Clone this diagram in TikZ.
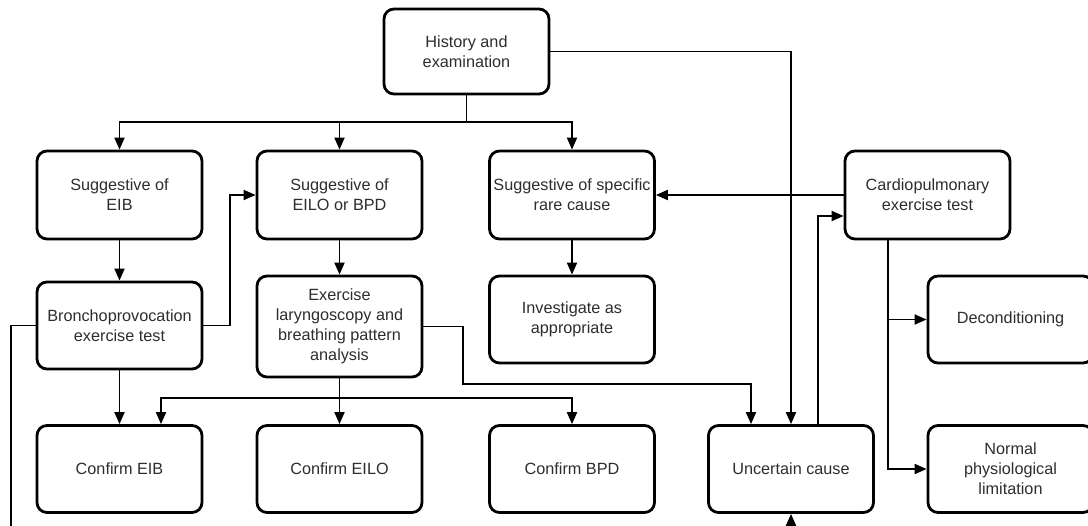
\documentclass[tikz,border=0pt]{standalone}
\usepackage{fontspec}
\setmainfont{Liberation Sans}
\usetikzlibrary{arrows.meta}
\definecolor{textgrey}{RGB}{45,45,45}
\tikzstyle{box}=[draw, rounded corners=10bp, line width=2.8bp, minimum width=165bp, minimum height=87bp, align=center, text=textgrey, font=\fontsize{16.3}{20}\selectfont, inner sep=0pt]
\tikzset{link/.style={-{Triangle[length=12bp,width=10bp]}, line width=1.9bp}}
\tikzset{plain/.style={line width=1.9bp}}

\begin{document}
\begin{tikzpicture}[x=1bp,y=-1bp]
  \useasboundingbox (0,0) rectangle (1088,526);
  \draw (466.5,51.5) node[box,minimum height=85bp] (hist) {History and\\examination};

  \draw (119.5,195) node[box,minimum height=88bp] (eib) {Suggestive of\\EIB};
  \draw (339.5,195) node[box,minimum height=88bp] (eilo) {Suggestive of\\EILO or BPD};
  \draw (572,195) node[box,minimum height=88bp] (rare) {Suggestive of specific\\rare cause};
  \draw (927.5,195) node[box,minimum height=88bp] (cpet) {Cardiopulmonary\\exercise test};

  \draw (119.5,325.5) node[box] (broncho) {Bronchoprovocation\\exercise test};
  \draw (339.5,326.5) node[box,minimum height=101bp] (laryn) {Exercise\\laryngoscopy and\\breathing pattern\\analysis};
  \draw (572,319.5) node[box] (invest) {Investigate as\\appropriate};
  \draw (1010.5,319.5) node[box] (decond) {Deconditioning};

  \draw (119.5,469) node[box] (ceib) {Confirm EIB};
  \draw (339.5,469) node[box] (ceilo) {Confirm EILO};
  \draw (572,469) node[box] (cbpd) {Confirm BPD};
  \draw (791,469) node[box] (unc) {Uncertain cause};
  \draw (1010.5,469) node[box] (normal) {Normal\\physiological\\limitation};

  %% from history
  \coordinate (hsplit) at (466.5,122);
  \draw[plain] (hist.south) -- (hsplit);
  \draw[link] (hsplit) -| (eib.north);
  \draw[link] (hsplit) -| (eilo.north);
  \draw[link] (hsplit) -| (rare.north);
  \draw[link] (hist.east) -| (unc.north);

  %% EIB branch
  \draw[link] (eib) -- (broncho);
  \draw[link] (broncho) -- (ceib);
  \draw[link] (broncho.east) -- ++(27,0) |- (eilo.west);
  \coordinate (lowleft) at (11,545);
  \draw[link] (broncho.west) -| (lowleft) -| (unc.south);

  %% EILO / BPD branch
  \draw[link] (eilo) -- (laryn);
  \coordinate (lsplit) at (339.5,398);
  \draw[plain] (laryn.south) -- (lsplit);
  \draw[link] (lsplit) -| ([xshift=41.5bp]ceib.north);
  \draw[link] (lsplit) -- (ceilo.north);
  \draw[link] (lsplit) -| (cbpd.north);
  \draw[link] (laryn.east) -- ++(40,0) |- (600,384) -| ([xshift=-40bp]unc.north);

  %% rare cause
  \draw[link] (rare) -- (invest);

  %% CPET
  \draw[link] (cpet.west) -- (rare.east);
  \draw[link] ([xshift=27bp]unc.north) |- ([yshift=-21bp]cpet.west);
  \coordinate (csplit) at (888,240);
  \draw[link] (csplit) |- (decond.west);
  \draw[link] (csplit) |- (normal.west);
\end{tikzpicture}
\end{document}
